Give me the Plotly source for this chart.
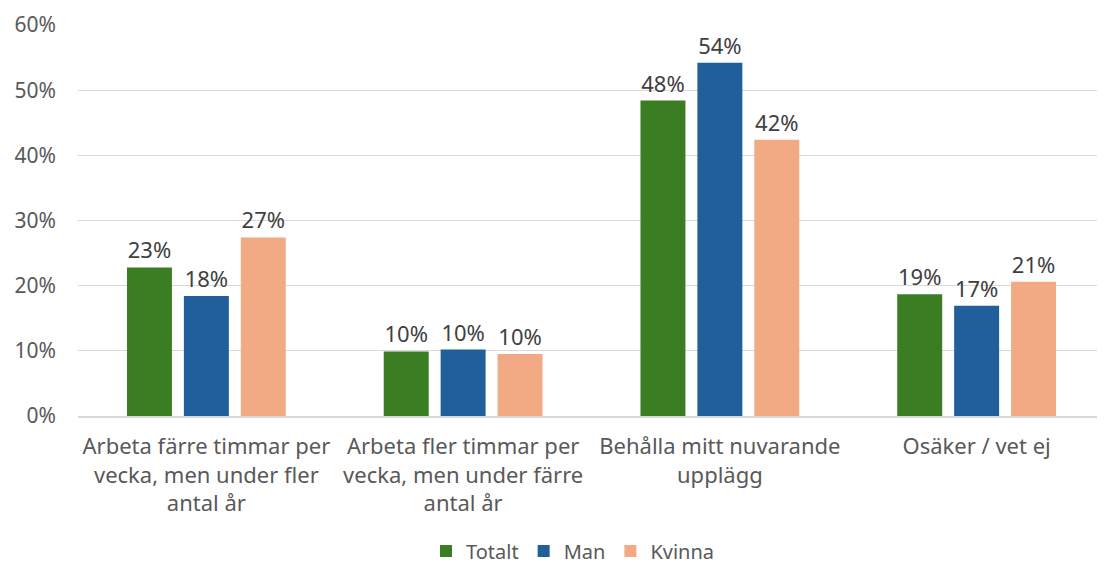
import plotly.graph_objects as go

kategorier = [
    "Arbeta färre timmar per<br>vecka, men under fler<br>antal år",
    "Arbeta fler timmar per<br>vecka, men under färre<br>antal år",
    "Behålla mitt nuvarande<br>upplägg",
    "Osäker / vet ej",
]
totalt = [22.8, 9.9, 48.4, 18.7]
man = [18.4, 10.2, 54.2, 16.9]
kvinna = [27.4, 9.5, 42.4, 20.6]

serier = [
    ("Totalt", totalt, "#3b7d23"),
    ("Man", man, "#215f9a"),
    ("Kvinna", kvinna, "#f2aa84"),
]

fig = go.Figure()
for namn, varden, farg in serier:
    fig.add_trace(go.Bar(
        name=namn, x=kategorier, y=varden,
        marker=dict(color=farg, line=dict(width=0)),
        text=[f"{round(v)}%" for v in varden],
        textposition="outside",
        constraintext="none",
        textfont=dict(size=22, color="#404040"),
        cliponaxis=False,
    ))

fig.update_layout(
    width=1105, height=565,
    paper_bgcolor="white", plot_bgcolor="white",
    font=dict(family="Noto Sans, Open Sans, sans-serif", color="#595959"),
    barmode="group", bargap=0.335, bargroupgap=0.21,
    margin=dict(l=70, r=8, t=17, b=157, autoexpand=False),
    legend=dict(orientation="h", x=0.482, xanchor="center", y=-0.345, yanchor="middle",
                font=dict(size=20, color="#595959"), traceorder="normal"),
    showlegend=True,
)
fig.update_yaxes(range=[0, 60], dtick=10, ticksuffix="%", showgrid=True,
                 gridcolor="#d9d9d9", gridwidth=1.2, zeroline=False, automargin=False,
                 tickfont=dict(size=21, color="#595959"), ticks="", ticklabelstandoff=21)
fig.update_xaxes(showline=True, linecolor="#d9d9d9", linewidth=1.5, automargin=False,
                 tickfont=dict(size=22, color="#595959"), ticks="", ticklabelstandoff=10)

fig.write_html("out.html")
